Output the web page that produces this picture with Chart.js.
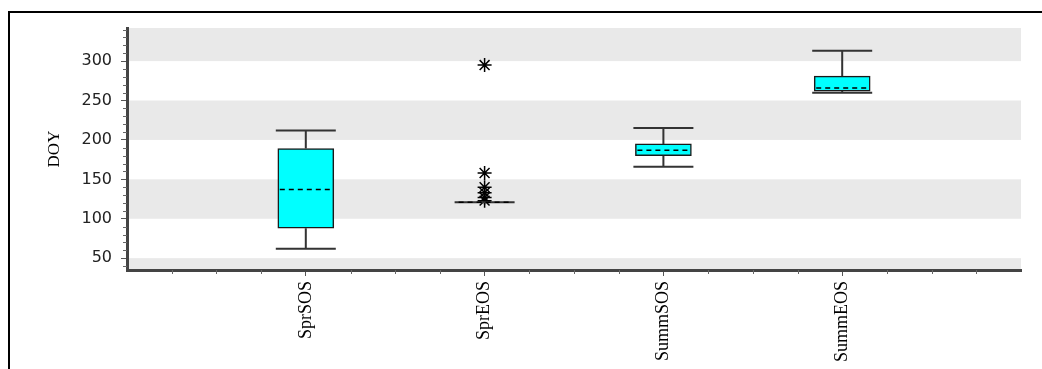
<!DOCTYPE html>
<html>
<head>
<meta charset="utf-8">
<script src="https://cdn.jsdelivr.net/npm/chart.js@4"></script>
<style>
html, body { margin: 0; padding: 0; background: #fff; }
</style>
</head>
<body>
<canvas id="boxChart" width="1042" height="369"></canvas>
<script>
// Box plot values (DOY)
const categories = ['SprSOS', 'SprEOS', 'SummSOS', 'SummEOS'];
const whiskerLow = [62, 121, 166, 260];
const quart1 = [88, 121, 180, 262];
const medians = [137, 121, 187, 266];
const quart3 = [189, 121, 195, 281];
const whiskerHigh = [212, 121, 215, 313];
const outliers = [[], [295, 158, 140, 133, 127, 123], [], []];
const yTicks = [50, 100, 150, 200, 250, 300];

const capWidth = 60;

// floating bars for the boxes, scatter for the outlier stars
const boxData = categories.map((c, i) => ({ x: i + 1, y: [quart1[i], quart3[i]] }));
const outlierData = [];
outliers.forEach((list, i) => list.forEach(v => outlierData.push({ x: i + 1, y: v })));

const boxExtras = {
    id: 'boxExtras',
    beforeDraw(chart) {
        const { ctx, chartArea: a, scales: { y } } = chart;
        ctx.save();
        // alternating grey bands every 50
        ctx.fillStyle = '#e9e9e9';
        for (let v = 0; v < y.max; v += 100) {
            const top = y.getPixelForValue(Math.min(v + 50, y.max));
            const bot = y.getPixelForValue(Math.max(v, y.min));
            ctx.fillRect(a.left, top, a.right - a.left, bot - top);
        }
        // outer frame (only top and left show)
        ctx.strokeStyle = '#000';
        ctx.lineWidth = 2;
        ctx.beginPath();
        ctx.moveTo(9, 369);
        ctx.lineTo(9, 12);
        ctx.lineTo(1042, 12);
        ctx.stroke();
        ctx.restore();
    },
    afterDatasetsDraw(chart) {
        const { ctx, chartArea: a, scales: { x, y } } = chart;
        ctx.save();
        categories.forEach((c, i) => {
            const cx = x.getPixelForValue(i + 1);
            const yHi = y.getPixelForValue(whiskerHigh[i]);
            const yLo = y.getPixelForValue(whiskerLow[i]);
            ctx.setLineDash([]);
            ctx.strokeStyle = '#333';
            ctx.lineWidth = 2;
            ctx.beginPath();
            ctx.moveTo(cx, y.getPixelForValue(quart3[i]));
            ctx.lineTo(cx, yHi);
            ctx.moveTo(cx, y.getPixelForValue(quart1[i]));
            ctx.lineTo(cx, yLo);
            ctx.moveTo(cx - capWidth / 2, yHi);
            ctx.lineTo(cx + capWidth / 2, yHi);
            ctx.moveTo(cx - capWidth / 2, yLo);
            ctx.lineTo(cx + capWidth / 2, yLo);
            ctx.stroke();
            // dashed median
            const ym = y.getPixelForValue(medians[i]);
            ctx.setLineDash([5, 4]);
            ctx.strokeStyle = '#000';
            ctx.lineWidth = 1.5;
            ctx.beginPath();
            ctx.moveTo(cx - 26, ym);
            ctx.lineTo(cx + 26, ym);
            ctx.stroke();
        });
        // minor tick marks
        ctx.setLineDash([]);
        ctx.strokeStyle = '#666';
        ctx.lineWidth = 1;
        ctx.beginPath();
        for (let v = 40; v <= y.max; v += 10) {
            if (v % 50 === 0) continue;
            const py = Math.round(y.getPixelForValue(v)) + 0.5;
            ctx.moveTo(a.left - 4, py);
            ctx.lineTo(a.left, py);
        }
        for (let t = 0.25; t < x.max; t += 0.25) {
            if (t % 1 === 0) continue;
            const px = Math.round(x.getPixelForValue(t)) + 0.5;
            ctx.moveTo(px, a.bottom);
            ctx.lineTo(px, a.bottom + 4);
        }
        ctx.stroke();
        ctx.restore();
    }
};

const boxCtx = document.getElementById('boxChart').getContext('2d');
const boxChart = new Chart(boxCtx, {
    type: 'bar',
    data: {
        datasets: [{
            type: 'bar',
            data: boxData,
            backgroundColor: '#00ffff',
            borderColor: '#1a1a1a',
            borderWidth: 1.5,
            borderSkipped: false,
            barThickness: 56
        }, {
            type: 'scatter',
            data: outlierData,
            pointStyle: 'star',
            radius: 7,
            borderColor: '#000',
            borderWidth: 1.5
        }]
    },
    options: {
        responsive: false,
        animation: false,
        layout: { padding: { top: 28, right: 21, bottom: 0, left: 0 } },
        plugins: {
            legend: { display: false },
            tooltip: { enabled: false }
        },
        scales: {
            x: {
                type: 'linear',
                min: 0,
                max: 5,
                offset: false,
                afterBuildTicks: scale => {
                    scale.ticks = categories.map((c, i) => ({ value: i + 1 }));
                },
                afterFit: scale => { scale.height = 99; },
                ticks: {
                    autoSkip: false,
                    minRotation: 90,
                    maxRotation: 90,
                    padding: 5,
                    color: '#000',
                    font: { family: 'Liberation Serif', size: 18 },
                    callback: value => categories[value - 1] || ''
                },
                grid: { drawOnChartArea: false, offset: false, tickLength: 6, color: '#555' },
                border: { color: '#444', width: 3 }
            },
            y: {
                min: 35,
                max: 342,
                afterBuildTicks: scale => {
                    scale.ticks = yTicks.map(v => ({ value: v }));
                },
                afterFit: scale => { scale.width = 127; },
                ticks: {
                    padding: 9,
                    color: '#222',
                    font: { family: 'DejaVu Sans', size: 16 }
                },
                grid: { drawOnChartArea: false, tickLength: 6, color: '#555' },
                border: { color: '#444', width: 3 },
                title: {
                    display: true,
                    text: 'DOY',
                    color: '#000',
                    font: { family: 'Liberation Serif', size: 17 },
                    padding: { top: 44, bottom: 0 }
                }
            }
        }
    },
    plugins: [boxExtras]
});
</script>
</body>
</html>
